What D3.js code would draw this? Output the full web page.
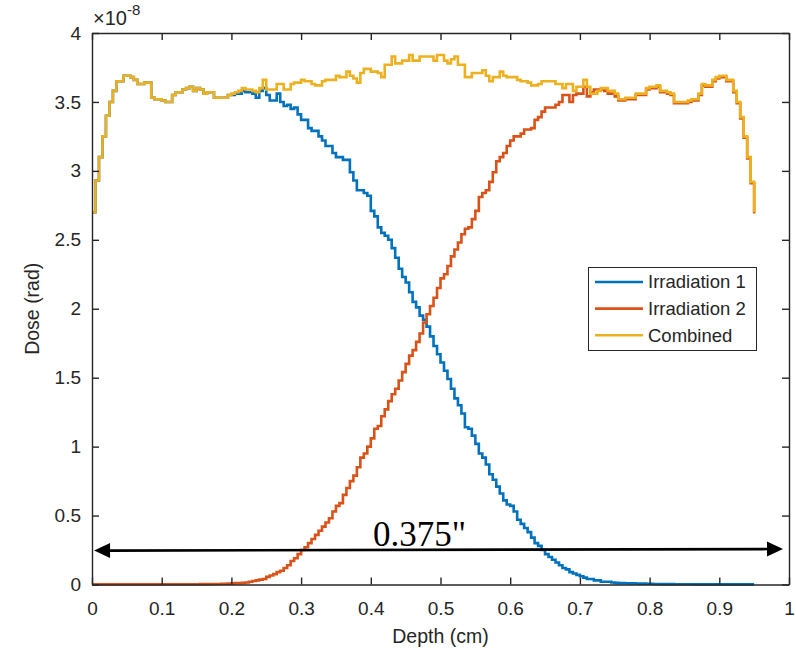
<!DOCTYPE html>
<html><head><meta charset="utf-8">
<script src="https://cdn.jsdelivr.net/npm/d3@7"></script>
<style>body{margin:0;background:#fff}svg{display:block}</style>
</head><body>
<svg id="c" width="796" height="655"></svg>
<script>
const step = 0.005;
const xTicks = [0,0.1,0.2,0.3,0.4,0.5,0.6,0.7,0.8,0.9,1];
const yTicks = [0,0.5,1,1.5,2,2.5,3,3.5,4];
const seriesNames = ["Irradiation 1","Irradiation 2","Combined"];
const seriesColors = ["#0072BD","#D95319","#EDB120"];

const irradiation1 = [
2.70,2.93,3.10,3.25,3.40,3.50,3.58,3.65,3.65,3.69,
3.69,3.68,3.66,3.63,3.63,3.64,3.64,3.53,3.52,3.52,
3.51,3.50,3.50,3.55,3.57,3.57,3.59,3.60,3.61,3.58,
3.60,3.59,3.56,3.57,3.57,3.53,3.53,3.53,3.53,3.55,
3.55,3.56,3.56,3.58,3.57,3.57,3.56,3.53,3.58,3.60,
3.55,3.51,3.51,3.56,3.50,3.47,3.48,3.45,3.46,3.41,
3.37,3.37,3.31,3.29,3.29,3.25,3.22,3.18,3.18,3.13,
3.10,3.10,3.08,3.08,2.99,2.93,2.86,2.86,2.84,2.82,
2.71,2.67,2.59,2.55,2.53,2.50,2.44,2.37,2.29,2.23,
2.19,2.12,2.05,2.01,1.95,1.92,1.87,1.80,1.73,1.67,
1.61,1.55,1.49,1.42,1.35,1.30,1.24,1.14,1.13,1.08,
1.02,0.95,0.92,0.87,0.80,0.76,0.71,0.66,0.61,0.58,
0.57,0.53,0.47,0.44,0.41,0.38,0.34,0.30,0.28,0.25,
0.22,0.20,0.18,0.16,0.14,0.12,0.11,0.09,0.08,0.07,
0.06,0.05,0.04,0.04,0.03,0.03,0.02,0.02,0.02,0.015,
0.012,0.010,0.010,0.009,0.008,0.008,0.007,0.006,0.006,0.005,
0.005,0.004,0.004,0.003,0.003,0.003,0.003,0.002,0.002,0.002,
0.002,0.002,0.002,0.001,0.001,0.001,0.001,0.001,0.001,0.001,
0.001,0.001,0.001,0.001,0.001,0.001,0.001,0.001,0.001,0.001,
0.001];

const irradiation2 = [
0.001,0.001,0.001,0.001,0.001,0.001,0.001,0.001,0.001,0.001,
0.001,0.001,0.001,0.001,0.001,0.001,0.001,0.001,0.001,0.001,
0.001,0.002,0.002,0.002,0.002,0.002,0.002,0.002,0.002,0.002,
0.002,0.003,0.003,0.003,0.004,0.004,0.004,0.005,0.005,0.006,
0.008,0.010,0.010,0.012,0.015,0.020,0.025,0.030,0.035,0.040,
0.055,0.065,0.075,0.09,0.10,0.12,0.14,0.17,0.19,0.22,
0.25,0.27,0.30,0.33,0.36,0.39,0.42,0.45,0.48,0.53,
0.57,0.59,0.65,0.70,0.75,0.79,0.85,0.92,0.95,1.00,
1.06,1.13,1.15,1.22,1.27,1.33,1.38,1.42,1.48,1.54,
1.60,1.66,1.70,1.76,1.82,1.90,1.96,2.02,2.08,2.15,
2.22,2.25,2.31,2.38,2.43,2.48,2.54,2.58,2.59,2.65,
2.71,2.81,2.84,2.86,2.92,2.99,3.07,3.10,3.13,3.18,
3.22,3.25,3.25,3.27,3.30,3.30,3.31,3.37,3.39,3.43,
3.46,3.46,3.46,3.48,3.50,3.55,3.55,3.50,3.55,3.56,
3.56,3.61,3.54,3.57,3.59,3.59,3.59,3.58,3.56,3.56,
3.54,3.51,3.51,3.52,3.52,3.52,3.55,3.55,3.55,3.59,
3.60,3.60,3.61,3.57,3.57,3.56,3.55,3.49,3.49,3.49,
3.49,3.50,3.51,3.51,3.55,3.62,3.61,3.61,3.65,3.67,
3.68,3.68,3.65,3.65,3.57,3.49,3.38,3.24,3.09,2.91,
2.69];

const combined = [
2.70,2.93,3.10,3.25,3.40,3.50,3.58,3.65,3.65,3.69,
3.69,3.68,3.66,3.63,3.63,3.64,3.64,3.53,3.52,3.52,
3.51,3.50,3.50,3.55,3.57,3.57,3.59,3.60,3.61,3.58,
3.60,3.59,3.56,3.57,3.57,3.53,3.53,3.53,3.53,3.55,
3.56,3.57,3.58,3.60,3.59,3.59,3.58,3.57,3.60,3.66,
3.59,3.59,3.59,3.63,3.63,3.59,3.59,3.63,3.64,3.64,
3.66,3.65,3.65,3.63,3.62,3.62,3.65,3.66,3.66,3.66,
3.69,3.68,3.68,3.72,3.69,3.67,3.64,3.71,3.74,3.74,
3.72,3.72,3.71,3.68,3.77,3.77,3.83,3.78,3.78,3.80,
3.80,3.84,3.80,3.80,3.83,3.83,3.83,3.83,3.80,3.84,
3.84,3.80,3.78,3.81,3.83,3.77,3.77,3.68,3.68,3.71,
3.71,3.71,3.73,3.69,3.65,3.68,3.68,3.72,3.69,3.68,
3.68,3.68,3.66,3.65,3.65,3.64,3.62,3.62,3.63,3.65,
3.65,3.65,3.65,3.63,3.63,3.60,3.63,3.63,3.58,3.61,
3.61,3.66,3.61,3.56,3.56,3.58,3.60,3.60,3.58,3.58,
3.56,3.52,3.52,3.53,3.53,3.53,3.56,3.56,3.56,3.60,
3.61,3.61,3.62,3.58,3.58,3.57,3.56,3.50,3.50,3.50,
3.50,3.51,3.52,3.52,3.56,3.63,3.62,3.62,3.66,3.68,
3.69,3.69,3.66,3.66,3.58,3.50,3.39,3.25,3.10,2.92,
2.70];

const allSeries = [irradiation1, irradiation2, combined];

const svg = d3.select("#c");
const W = 796, H = 655;
const m = {l:92, r:7, t:33, b:70.5};
const x = d3.scaleLinear().domain([0,1]).range([m.l, W - m.r]);
const y = d3.scaleLinear().domain([0,4]).range([H - m.b, m.t]);
const axisCol = "#262626";
const tickFont = "Liberation Sans, Arial, sans-serif";

// data lines
const line = d3.line().x((d,i)=>x(i*step)).y(d=>y(d)).curve(d3.curveStepAfter);
allSeries.forEach((s,k)=>{
  svg.append("path").datum(s).attr("d", line)
    .attr("fill","none").attr("stroke", seriesColors[k])
    .attr("stroke-width", 2.6).attr("stroke-linejoin","miter");
});

// axes
const tl = 7;
const gx = svg.append("g").attr("transform",`translate(0,${y(0)})`)
  .call(d3.axisBottom(x).tickValues(xTicks).tickSizeInner(-tl).tickSizeOuter(0).tickPadding(17)
    .tickFormat(d=>d3.format("~g")(d)));
const gxt = svg.append("g").attr("transform",`translate(0,${y(4)})`)
  .call(d3.axisTop(x).tickValues(xTicks).tickSizeInner(-tl).tickSizeOuter(0).tickFormat(""));
const gy = svg.append("g").attr("transform",`translate(${x(0)},0)`)
  .call(d3.axisLeft(y).tickValues(yTicks).tickSizeInner(-tl).tickSizeOuter(0).tickPadding(11)
    .tickFormat(d=>d3.format("~g")(d)));
const gyr = svg.append("g").attr("transform",`translate(${x(1)},0)`)
  .call(d3.axisRight(y).tickValues(yTicks).tickSizeInner(-tl).tickSizeOuter(0).tickFormat(""));
[gx,gxt,gy,gyr].forEach(g=>{
  g.selectAll(".domain").attr("stroke",axisCol).attr("stroke-width",1.4);
  g.selectAll(".tick line").attr("stroke",axisCol).attr("stroke-width",1.4);
  g.selectAll(".tick text").attr("fill",axisCol).attr("font-family",tickFont).attr("font-size",19);
});

// exponent label
const ex = svg.append("text").attr("x", x(0)+1).attr("y", 25)
  .attr("font-family",tickFont).attr("font-size",20).attr("fill",axisCol);
ex.append("tspan").text("×10");
ex.append("tspan").attr("dy",-10).attr("font-size",15).text("-8");

// axis labels
svg.append("text").attr("x",(x(0)+x(1))/2).attr("y",643)
  .attr("text-anchor","middle").attr("font-family",tickFont).attr("font-size",19.5)
  .attr("fill",axisCol).text("Depth (cm)");
svg.append("text").attr("transform",`translate(39,${(y(0)+y(4))/2}) rotate(-90)`)
  .attr("text-anchor","middle").attr("font-family",tickFont).attr("font-size",19.5)
  .attr("fill",axisCol).text("Dose (rad)");

// legend
const lg = svg.append("g");
lg.append("rect").attr("x",588.5).attr("y",267.5).attr("width",168).attr("height",83)
  .attr("fill","#fff").attr("stroke",axisCol).attr("stroke-width",1);
seriesNames.forEach((n,k)=>{
  const yy = 282 + k*26.6;
  lg.append("line").attr("x1",595).attr("x2",643).attr("y1",yy).attr("y2",yy)
    .attr("stroke",seriesColors[k]).attr("stroke-width",2.6);
  lg.append("text").attr("x",648).attr("y",yy).attr("dy","0.35em")
    .attr("font-family",tickFont).attr("font-size",18.5).attr("fill",axisCol).text(n);
});

// span arrow
const ax0 = x(0.003), ay0 = y(0.246), ax1 = x(0.9914), ay1 = y(0.257);
const ah = 16, aw = 7.5;
svg.append("line").attr("x1",ax0+ah-2).attr("y1",ay0).attr("x2",ax1-ah+2).attr("y2",ay1)
  .attr("stroke","#000").attr("stroke-width",2.6);
svg.append("path").attr("d",`M${ax0},${ay0}L${ax0+ah},${ay0-aw}L${ax0+ah},${ay0+aw}Z`).attr("fill","#000");
svg.append("path").attr("d",`M${ax1},${ay1}L${ax1-ah},${ay1-aw}L${ax1-ah},${ay1+aw}Z`).attr("fill","#000");
svg.append("text").attr("x",373).attr("y",546)
  .attr("font-family","Liberation Serif, Times New Roman, serif").attr("font-size",35)
  .attr("fill","#000").text("0.375\"");
</script>
</body></html>
